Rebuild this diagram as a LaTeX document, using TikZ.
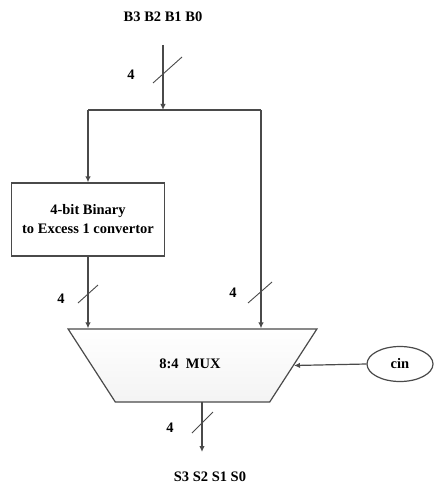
\documentclass[tikz,border=0pt]{standalone}
\usepackage{fontspec}
\setmainfont{Liberation Serif}
\usetikzlibrary{positioning, arrows.meta, shapes.geometric}
\definecolor{LineGray}{HTML}{4A4A4A}

\begin{document}
\begin{tikzpicture}[x=1pt, y=-1pt,
    every node/.style={font=\fontsize{14.5}{19}\selectfont\bfseries, text=black},
    box/.style={draw=LineGray, line width=1.2pt, fill=white, align=center,
                minimum width=153pt, minimum height=73pt, inner sep=2pt},
    muxbox/.style={draw=LineGray, line width=1.2pt, trapezium, shape border rotate=180,
                trapezium left angle=73, trapezium right angle=73,
                trapezium stretches=true, minimum width=249pt, minimum height=73pt,
                top color=white, bottom color=gray!9},
    carry/.style={draw=LineGray, line width=1.2pt, ellipse, fill=white,
                minimum width=66pt, minimum height=35pt, inner sep=1pt},
    wire/.style={draw=LineGray, line width=1.2pt},
    arr/.style={wire, -{Latex[length=6pt, width=5.5pt]}},
    bus/.style={draw=LineGray, line width=0.9pt},
  ]
    \useasboundingbox (0,0) rectangle (442,489);

    % inputs and blocks
    \node (bin)  at (163,17)   {B3 B2 B1 B0};
    \node[box] (conv) at (88,219.5) {4-bit Binary\\to Excess 1 convertor};
    \node[muxbox] (mux) at (192.5,365.5) {};
    \node (muxlbl) at (190,364) {8:4\ \ MUX};
    \node[carry] (cin) at (400,364) {cin};
    \node (sout) at (210,477)  {S3 S2 S1 S0};

    \coordinate (bintop) at (163,45);
    \coordinate (split)  at (163,110);
    \coordinate (lsplit) at (88,110);
    \coordinate (rsplit) at (261,110);
    \coordinate (outtop) at (202,402);
    \coordinate (outend) at (202,452);

    % wires
    \draw[arr]  (bintop) -- (split);
    \draw[wire] (lsplit) -- (rsplit);
    \draw[arr]  (lsplit) -- (conv.north);
    \draw[arr]  (conv.south) -- (conv.south |- mux.north);
    \draw[arr]  (rsplit) -- (rsplit |- mux.north);
    \draw[arr]  (cin.west) -- (mux.east);
    \draw[arr]  (outtop) -- (outend);

    % bus widths
    \coordinate (bw1) at (163,74);
    \coordinate (bw2) at (88,294);
    \coordinate (bw3) at (261,292);
    \coordinate (bw4) at (202,423);
    \draw[bus] ([shift={(-10,9)}]bw1) -- ([shift={(19,-17)}]bw1);
    \draw[bus] ([shift={(-10,9)}]bw2) -- ([shift={(10,-9)}]bw2);
    \draw[bus] ([shift={(-13,11)}]bw3) -- ([shift={(11,-10)}]bw3);
    \draw[bus] ([shift={(-10,10)}]bw4) -- ([shift={(11,-11)}]bw4);
    \node (w1) at (131,75)  {4};
    \node (w2) at (61,299)  {4};
    \node (w3) at (233,293) {4};
    \node (w4) at (170,428) {4};
\end{tikzpicture}
\end{document}
